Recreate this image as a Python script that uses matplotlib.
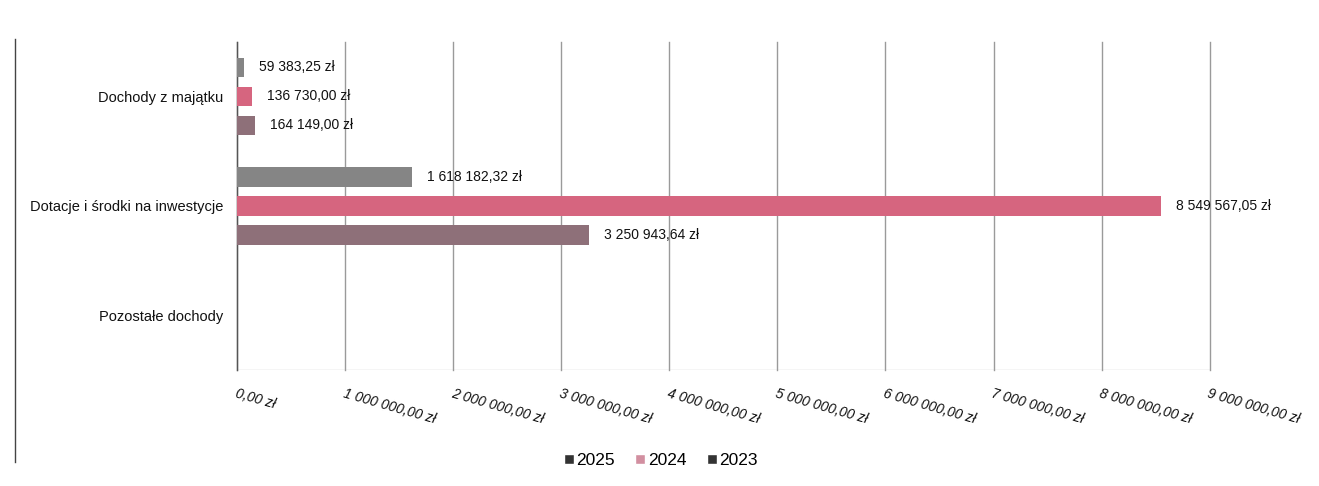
import numpy as np
import matplotlib.pyplot as plt
from matplotlib.lines import Line2D

plt.rcParams["font.family"] = ["Liberation Sans", "DejaVu Sans"]

# dane
kategorie = ["Dochody z majątku", "Dotacje i środki na inwestycje", "Pozostałe dochody"]
lata = ["2025", "2024", "2023"]
wartosci_2025 = [59383.25, 1618182.32, 0]
wartosci_2024 = [136730.00, 8549567.05, 0]
wartosci_2023 = [164149.00, 3250943.64, 0]
ticki = [0, 1000000, 2000000, 3000000, 4000000, 5000000, 6000000, 7000000, 8000000, 9000000]

kolory = {"2025": "#858585", "2024": "#d6657f", "2023": "#8e7079"}
kolory_legendy = {"2025": "#333333", "2024": "#d28fa0", "2023": "#333333"}


def zl(v):
    s = f"{v:,.2f}".replace(",", " ").replace(".", ",")
    return s + " zł"


fig = plt.figure(figsize=(13.19, 4.86), dpi=100)
ax = fig.add_axes([0.18, 0.239, 0.737, 0.675])

y = np.arange(len(kategorie))
h = 0.18
odstep = 0.265
serie = [wartosci_2025, wartosci_2024, wartosci_2023]

for i, (rok, vals) in enumerate(zip(lata, serie)):
    pos = y + (i - 1) * odstep
    for p, v in zip(pos, vals):
        if v <= 0:
            continue
        ax.barh(p, v, height=h, color=kolory[rok], zorder=3)
        ax.annotate(zl(v), (v, p), xytext=(11, 0), textcoords="offset points",
                    va="center", ha="left", fontsize=10, color="#111111")

ax.set_ylim(len(kategorie) - 0.5, -0.5)
ax.set_xlim(0, 9000000)
ax.set_yticks(y)
ax.set_yticklabels(kategorie, fontsize=10.5, color="#111111")
ax.set_xticks(ticki)
ax.set_xticklabels([zl(t) for t in ticki], fontsize=10, style="italic",
                   rotation=-16, ha="left", rotation_mode="anchor", color="#111111")
ax.tick_params(axis="y", length=0, pad=10)
ax.tick_params(axis="x", length=0, pad=12)
ax.grid(axis="x", color="#9a9a9a", linewidth=1.0, zorder=0)
for gl in ax.get_xgridlines():
    gl.set_clip_on(False)
for s in ["top", "right", "bottom"]:
    ax.spines[s].set_visible(False)
ax.spines["left"].set_color("#555555")
ax.spines["left"].set_linewidth(1.0)
ax.axhline(len(kategorie) - 0.5, color="#cccccc", linewidth=1.0, zorder=1)

uchwyty = [Line2D([0], [0], marker="s", color="w", markerfacecolor=kolory_legendy[r],
                  markersize=7, label=r) for r in lata]
fig.legend(handles=uchwyty, loc="center", bbox_to_anchor=(0.5, 0.052), ncol=3,
           frameon=False, fontsize=12.5, handletextpad=0.0, columnspacing=1.0,
           handlelength=0.9)

# krawędź skanu
fig.add_artist(Line2D([0.011, 0.011], [0.05, 0.92], color="#444444", linewidth=1.0))

fig.savefig("out.png", dpi=100)
